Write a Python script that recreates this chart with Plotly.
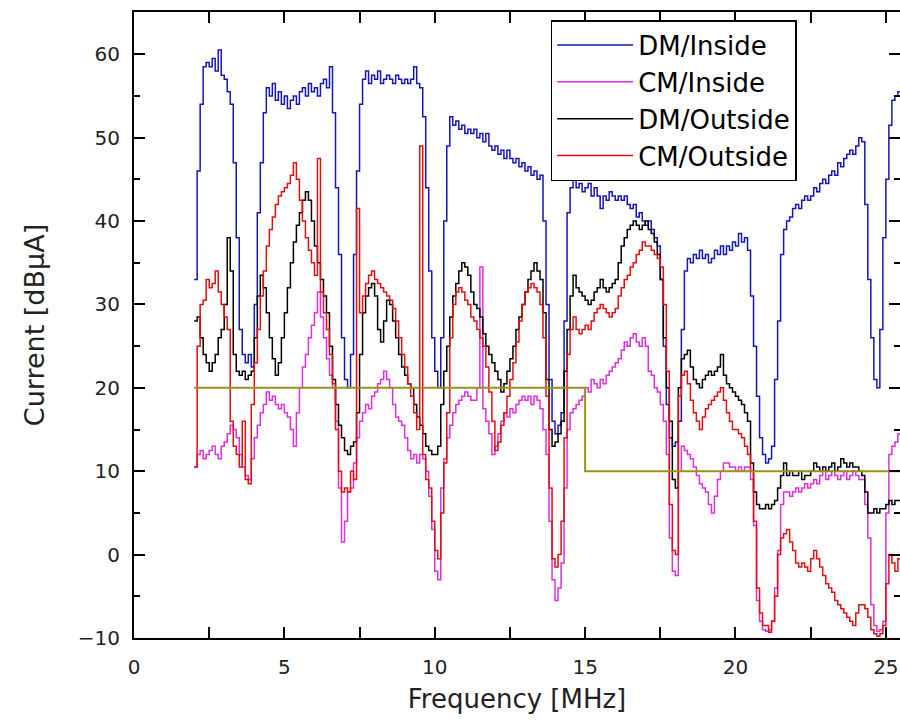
import numpy as np
import plotly.graph_objects as go

# Frequency grid of the measurement, 2.0 - 25.5 MHz in 0.1 MHz steps
freq = np.round(np.arange(2.0, 25.55, 0.1), 1)

# Current levels [dBuA], one row per MHz (x.0 ... x.9)
dm_inside = [
    33, 46, 54, 58.5, 59, 58.5, 59.5, 58, 60.5, 57.5,              # 2
    57, 55.5, 54, 47, 38, 27, 24, 23, 24, 22.5,                    # 3
    30, 41, 47, 53, 56, 55, 56.5, 54.5, 55.5, 54,                  # 4
    55, 53.5, 54.5, 55, 54, 55.5, 56, 55, 56.5, 55.5,              # 5
    56, 55, 56.5, 57, 56, 58.5, 53, 44, 36, 26,                    # 6
    21, 20, 24, 36, 46, 54, 57, 58, 56.5, 57.5,                    # 7
    57, 58, 56.5, 57, 57.5, 57, 56.5, 57.5, 57, 56.5,              # 8
    57, 56.5, 57, 58.5, 56.5, 56, 52.5, 44, 34, 26,                # 9
    22, 20, 26, 40, 49, 52.5, 51.5, 52, 51, 51.5,                  # 10
    50.5, 51, 50.5, 51, 50, 50.5, 49.5, 50.5, 49, 48.5,            # 11
    49, 48, 48.5, 47.5, 48.5, 47.5, 47, 47.5, 46.5, 47,            # 12
    46, 46.5, 45.5, 46, 45, 45.5, 40, 30, 21, 16,                  # 13
    14.5, 15.5, 17, 28, 41, 44, 45.5, 44, 44.5, 43.5,              # 14
    44, 44.5, 43, 44, 43, 41.5, 43, 42.5, 43.5, 43,                # 15
    42.5, 43, 42.5, 43, 42, 41.5, 42, 40.5, 41, 40,                # 16
    39.5, 40, 39, 38, 37, 33, 25, 18, 14, 13,                      # 17
    13.5, 16, 27, 34, 35.5, 35, 36, 35.5, 36.5, 35.5,              # 18
    36, 35, 35.5, 36.5, 36, 37, 36, 37, 36.5, 37.5,                # 19
    37, 38.5, 37.5, 38, 36.5, 31, 25, 19, 14, 12,                  # 20
    11, 11.5, 13, 21, 28, 36, 39, 40, 40.5, 41.5,                  # 21
    42, 41.5, 42.5, 43, 42.5, 43, 44, 43.5, 44.5, 45,              # 22
    44.5, 45.5, 46, 45.5, 47, 46.5, 47.5, 48, 48.5, 48,            # 23
    49, 50, 49.5, 42, 33, 26, 21, 20, 27, 38,                      # 24
    45, 51.5, 54.5, 55, 55.5, 55,                                  # 25
]

cm_inside = [
    10.5, 12, 12.5, 11.5, 12, 12.5, 13, 12, 11.5, 13,              # 2
    13.5, 14.5, 15.5, 15, 14, 12, 10.5, 9.5, 9, 11.5,              # 3
    14, 15.5, 17, 18, 19.5, 18.5, 19, 18, 17.5, 18,                # 4
    17, 16.5, 15, 13, 17, 20, 22.5, 24, 26, 27.5,                  # 5
    29, 31.5, 28.5, 26, 23.5, 21.5, 20, 16, 8, 1.5,                # 6
    4, 7.5, 8, 11, 14, 16, 17, 18, 17.5, 19,                       # 7
    19.5, 20.5, 21, 22, 21, 20, 18, 16.5, 16, 15.5,                # 8
    14, 12.5, 11.5, 12, 11, 12, 11.5, 10, 7, 3,                    # 9
    -2, -3, 8, 11.5, 14, 15.5, 17, 18, 18.5, 19,                   # 10
    19.5, 19, 18.5, 18.5, 20, 34.5, 17.5, 16, 14.5, 12,            # 11
    13, 14.5, 16, 17, 16.5, 17.5, 17, 18, 18.5, 19,                # 12
    18.5, 19, 18, 19, 18.5, 17.5, 15, 12, 4, -3,                   # 13
    -5.5, -4, -1, 8, 15, 17, 17.5, 18, 18.5, 19,                   # 14
    20, 19.5, 21, 20.5, 20, 21, 20.5, 21.5, 22, 22.5,              # 15
    23, 23.5, 24.5, 25.5, 25, 26, 26.5, 25.5, 25, 26,              # 16
    25, 22, 21.5, 20, 19.5, 18, 16, 12, 2, -2,                     # 17
    -2.5, 10, 13, 12.5, 12, 11.5, 10.5, 9.5, 8.5, 8,               # 18
    7.5, 6, 5, 7, 9, 10, 11, 11, 10.5, 10.5,                       # 19
    10, 10.5, 10, 10.5, 10.5, 9, 3.5, -5.5, -8, -9,                # 20
    -9.2, -9, -8, -4, 0.5, 6, 7.5, 7.5, 7, 7.5,                    # 21
    8, 7.5, 8, 8.5, 8, 8.5, 9, 8.5, 9.5, 10,                       # 22
    9, 9.5, 10, 9.5, 9, 9.5, 10, 9, 9.5, 10,                       # 23
    9.5, 9, 9, 6, 2, -6, -8.5, -9.2, -9, -8,                       # 24
    5, 12, 13, 13.5, 14.5, 15.5,                                   # 25
]

dm_outside = [
    28, 28.5, 26, 24, 23, 22, 23, 24, 26, 27,                      # 2
    30, 38, 34, 24, 22, 21.5, 22, 21, 21.5, 22,                    # 3
    26, 31, 33.5, 32, 29, 26, 23.5, 21.5, 23, 26,                  # 4
    29, 32, 35, 37.5, 39.5, 41, 42.5, 43.5, 42.5, 40,              # 5
    37, 35, 33, 31, 29, 25, 21, 18, 15.5, 14,                      # 6
    12.5, 12, 13, 13.5, 17, 24, 29, 31, 32, 32.5,                  # 7
    31, 27, 25.5, 28, 30.5, 30, 28, 26, 24, 22.5,                  # 8
    21.5, 20.5, 20, 18, 16.5, 15.5, 14.5, 13, 12.5, 12,            # 9
    12, 13, 18, 22, 25, 28.5, 31, 32.5, 34, 35,                    # 10
    34.5, 33.5, 31.5, 30, 29.5, 28.5, 26.5, 25, 24, 23,            # 11
    22, 21, 19.5, 20.5, 22, 23.5, 25, 27, 28.5, 30,                # 12
    31.5, 33, 34, 35, 34, 33, 29, 21, 15, 13,                      # 13
    13.5, 14.5, 16, 22, 27, 31, 33.5, 32, 31.5, 31,                # 14
    30.5, 30, 30.5, 31.5, 32, 33, 32, 31.5, 32, 32.5,              # 15
    33, 35, 37, 38, 39, 39.5, 40, 39.5, 39, 39.5,                  # 16
    40, 39, 38.5, 37.5, 36, 33, 26, 20, 16, 9,                     # 17
    8, 20, 23.5, 24, 24.5, 22.5, 21, 20.5, 20, 21,                 # 18
    21.5, 22, 21.5, 22, 22.5, 24, 21.5, 20.5, 20, 19.5,            # 19
    19, 18.5, 18, 17, 16, 11, 7.5, 6, 5.5, 5.5,                    # 20
    6, 5.5, 6, 6.5, 8, 9.5, 11, 9.5, 10, 9.5,                      # 21
    9.5, 10, 9, 9.5, 9.5, 10, 11, 10.5, 10, 10.5,                  # 22
    10, 10.5, 11, 10, 10.5, 11.5, 11, 10.5, 11, 10.5,              # 23
    10.5, 10, 9.5, 7.5, 5, 5, 5.5, 5, 5.5, 5.5,                    # 24
    6, 6.5, 6, 6.5, 6.5, 7,                                        # 25
]

cm_outside = [
    10.5, 25, 30, 30.5, 33, 32, 32.5, 34, 31.5, 30,                # 2
    28.5, 27, 16, 13, 12, 10.5, 16, 9, 8.5, 18,                    # 3
    23, 27, 31, 34, 37, 39, 40.5, 42, 43, 43.5,                    # 4
    44, 44.5, 45.5, 47, 45, 42.5, 40, 38, 36.5, 35,                # 5
    33.5, 47.5, 31.5, 29, 27, 24, 20.5, 15, 10, 7.5,               # 6
    8, 7.5, 10, 9, 41.5, 29, 31, 32.5, 33.5, 34,                   # 7
    33, 32.5, 32, 31.5, 31, 30.5, 29.5, 28, 26, 24,                # 8
    22.5, 20.5, 19, 17, 15, 49, 12, 9, 8, 4,                       # 9
    0.5, -0.5, 5, 11, 17, 26, 30, 31.5, 32, 31.5,                  # 10
    30.5, 30, 28.5, 28, 27, 26, 25, 22.5, 19.5, 16,                # 11
    12.5, 13.5, 15.5, 17, 19, 21, 23, 25.5, 28, 30,                # 12
    31.5, 32, 32.5, 32, 31.5, 30, 26, 19, 8, -0.5,                 # 13
    -1.5, 0, 4, 14, 24, 27, 28.5, 27, 26.5, 27,                    # 14
    27.5, 27, 28, 29, 29.5, 30, 29.5, 29, 28.5, 29,                # 15
    29.5, 31, 32, 33, 33.5, 34.5, 35, 36, 36.5, 37.5,              # 16
    37, 37, 36.5, 36, 35.5, 34.5, 30, 22, 6, 0.5,                  # 17
    0, 19, 21.5, 22, 20.5, 18.5, 17, 16, 15, 16.5,                 # 18
    17.5, 18, 18.5, 19, 19.5, 20, 18.5, 17, 16, 15,                # 19
    15, 14.5, 14, 13, 12, 10, 4, -4, -7, -8.5,                     # 20
    -8.5, -9.3, -8, -5, 0, 2, 2.5, 3, 1.5, 0.5,                    # 21
    -1, -1.5, -1, -1.5, -2, -0.5, 0.5, -0.5, -1.5, -2.5,           # 22
    -3.5, -4, -4.5, -5.5, -6, -6.5, -7, -7.5, -8, -8.5,            # 23
    -7, -6, -6, -6.5, -7.5, -9, -9.5, -9.8, -9.5, -8.5,            # 24
    -3.5, 0, -1, -2, -0.5, 0.5,                                    # 25
]

# Limit line: 20 dBuA up to 15 MHz, 10 dBuA above
limit_freq = [2.0, 15.0, 26.0]
limit_level = [20, 10, 10]

series = [
    ("DM/Inside", dm_inside, "#1616b8"),
    ("CM/Inside", cm_inside, "#dd2fdd"),
    ("DM/Outside", dm_outside, "#000000"),
    ("CM/Outside", cm_outside, "#e01010"),
]

fig = go.Figure()
for name, vals, color in series:
    fig.add_trace(go.Scatter(
        x=freq, y=vals, name=name, mode="lines",
        line=dict(color=color, width=1.5, shape="hv"),
    ))

# limit line sits on the overlaying axis that carries the right-hand ticks
fig.add_trace(go.Scatter(
    x=limit_freq, y=limit_level, mode="lines", showlegend=False, yaxis="y2",
    line=dict(color="#9a901e", width=2, shape="hv"),
))

tick_font = dict(family="DejaVu Sans", size=20, color="#222222")
y_range = [-10, 65.07]

fig.update_layout(
    width=900, height=721,
    margin=dict(l=134, r=0, t=12, b=83),
    paper_bgcolor="white", plot_bgcolor="white",
    font=dict(family="DejaVu Sans", color="#222222"),
    xaxis=dict(
        range=[0, 25.47], dtick=5, tick0=0,
        showline=True, linecolor="black", linewidth=2, mirror="allticks",
        ticks="inside", ticklen=11, tickwidth=1.5, tickcolor="black",
        minor=dict(dtick=2.5, ticks="inside", ticklen=6, tickwidth=1.5, tickcolor="black"),
        showgrid=False, zeroline=False, tickfont=tick_font,
        ticklabelstandoff=10,
        title=dict(text="Frequency [MHz]", font=dict(family="DejaVu Sans", size=26, color="#222222"), standoff=12),
    ),
    yaxis=dict(
        range=y_range, dtick=10, tick0=0,
        showline=True, linecolor="black", linewidth=2, mirror=False,
        ticks="inside", ticklen=11, tickwidth=1.5, tickcolor="black",
        minor=dict(dtick=5, ticks="inside", ticklen=6, tickwidth=1.5, tickcolor="black"),
        showgrid=False, zeroline=False, tickfont=tick_font,
        ticklabelstandoff=8,
        title=dict(text="Current [dBμA]", font=dict(family="DejaVu Sans", size=27, color="#222222"), standoff=25),
    ),
    yaxis2=dict(
        range=y_range, dtick=10, tick0=0, overlaying="y", side="right",
        showline=False, showticklabels=False,
        ticks="inside", ticklen=11, tickwidth=1.5, tickcolor="black",
        minor=dict(dtick=5, ticks="inside", ticklen=6, tickwidth=1.5, tickcolor="black"),
        showgrid=False, zeroline=False,
    ),
    legend=dict(
        x=0.544, y=0.987, xanchor="left", yanchor="top",
        bgcolor="white", bordercolor="black", borderwidth=1.5,
        font=dict(family="DejaVu Sans", size=26, color="black"),
        itemwidth=76, tracegroupgap=0,
    ),
    showlegend=True,
)

fig.write_html("out.html")
